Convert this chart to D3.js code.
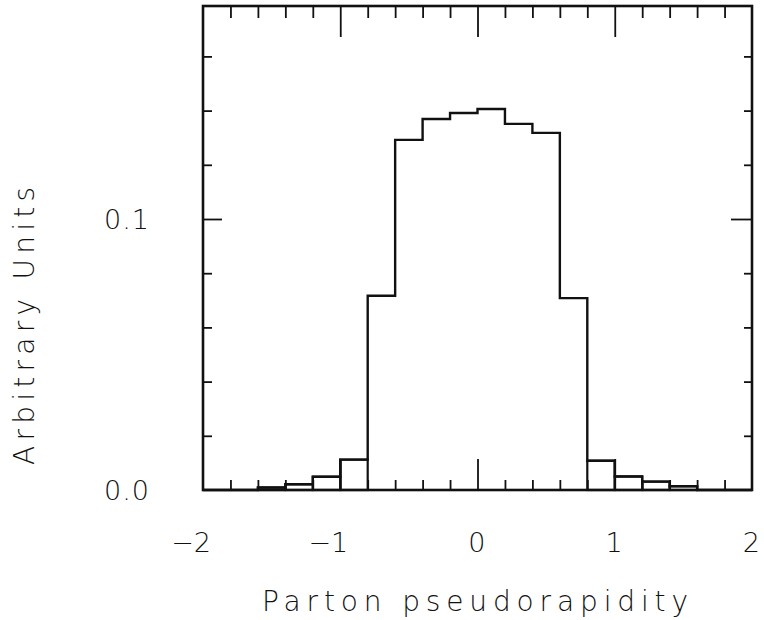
<!DOCTYPE html>
<html>
<head>
<meta charset="utf-8">
<script src="https://cdn.jsdelivr.net/npm/d3@7"></script>
<style>
  html, body { margin: 0; padding: 0; background: #fff; }
  svg { display: block; }
  text { font-family: "DejaVu Sans", "Liberation Sans", sans-serif; font-weight: 200; fill: #111; }
</style>
</head>
<body>
<svg id="chart" width="764" height="620"></svg>
<script>
// ---- data ----
const binEdges = [-2.0, -1.8, -1.6, -1.4, -1.2, -1.0, -0.8, -0.6, -0.4, -0.2, 0.0,
                  0.2, 0.4, 0.6, 0.8, 1.0, 1.2, 1.4, 1.6, 1.8, 2.0];
const binValues = [0, 0, 0.0009, 0.0021, 0.0049, 0.0112, 0.0717, 0.1292, 0.1369, 0.1391,
                   0.1406, 0.1351, 0.1318, 0.0708, 0.0108, 0.0050, 0.0031, 0.0014, 0, 0];
const xMajorTicks = [-2, -1, 0, 1, 2];
const xTickLabels = ["\u22122", "\u22121", "0", "1", "2"];
const xMinorTicks = [-1.8, -1.6, -1.4, -1.2, -0.8, -0.6, -0.4, -0.2, 0.2, 0.4, 0.6, 0.8, 1.2, 1.4, 1.6, 1.8];
const yMajorTicks = [0.0, 0.1];
const yTickLabels = ["0.0", "0.1"];
const yMinorTicks = [0.02, 0.04, 0.06, 0.08, 0.12, 0.14, 0.16];
const xTitle = "Parton  pseudorapidity";
const yTitle = "Arbitrary  Units";

// ---- layout ----
const svg = d3.select("#chart");
const L = 203, R = 752, T = 6, B = 490;
const x = d3.scaleLinear().domain([-2, 2]).range([L, R]);
const y = d3.scaleLinear().domain([0, 0.1786]).range([B, T]);
const ink = "#111";

// axes (ticks inward)
function addAxis(gen, transform) {
  const g = svg.append("g").attr("transform", transform).call(gen);
  g.select(".domain").remove();
  g.selectAll("line").attr("stroke", ink).attr("stroke-width", 1.8);
  return g;
}
const noFmt = () => "";
addAxis(d3.axisBottom(x).tickValues(xMinorTicks).tickSize(-10).tickFormat(noFmt), `translate(0,${B})`);
addAxis(d3.axisBottom(x).tickValues(xMajorTicks.slice(1, -1)).tickSize(-31).tickFormat(noFmt), `translate(0,${B})`);
addAxis(d3.axisTop(x).tickValues(xMinorTicks).tickSize(-12).tickFormat(noFmt), `translate(0,${T})`);
addAxis(d3.axisTop(x).tickValues(xMajorTicks.slice(1, -1)).tickSize(-31).tickFormat(noFmt), `translate(0,${T})`);
addAxis(d3.axisLeft(y).tickValues(yMinorTicks).tickSize(-9).tickFormat(noFmt), `translate(${L},0)`);
addAxis(d3.axisLeft(y).tickValues([0.1]).tickSize(-19).tickFormat(noFmt), `translate(${L},0)`);
addAxis(d3.axisRight(y).tickValues(yMinorTicks).tickSize(-8).tickFormat(noFmt), `translate(${R},0)`);
addAxis(d3.axisRight(y).tickValues([0.1]).tickSize(-21).tickFormat(noFmt), `translate(${R},0)`);

// histogram step outline
const steps = [];
binValues.forEach((v, i) => {
  steps.push([binEdges[i], v]);
  steps.push([binEdges[i + 1], v]);
});
const line = d3.line().x(d => x(d[0])).y(d => y(d[1]));
svg.append("path").attr("d", line(steps))
  .attr("fill", "none").attr("stroke", ink).attr("stroke-width", 2.4)
  .attr("stroke-linejoin", "miter");

// tail bins drawn as boxes down to baseline
binValues.forEach((v, i) => {
  if (v > 0 && v < 0.02) {
    svg.append("rect")
      .attr("x", x(binEdges[i])).attr("y", y(v))
      .attr("width", x(binEdges[i + 1]) - x(binEdges[i]))
      .attr("height", y(0) - y(v))
      .attr("fill", "none").attr("stroke", ink).attr("stroke-width", 2.2);
  }
});

// frame
svg.append("rect").attr("x", L).attr("y", T).attr("width", R - L).attr("height", B - T)
  .attr("fill", "none").attr("stroke", ink).attr("stroke-width", 2.6);

// tick labels
xMajorTicks.forEach((t, i) => {
  svg.append("text")
    .attr("x", x(t) + 8).attr("y", 552)
    .attr("text-anchor", "end")
    .attr("font-size", 27)
    .text(xTickLabels[i]);
});
yMajorTicks.forEach((t, i) => {
  svg.append("text")
    .attr("x", 150).attr("y", y(t) + 10)
    .attr("text-anchor", "end")
    .attr("font-size", 27)
    .attr("letter-spacing", 1)
    .text(yTickLabels[i]);
});

// axis titles
svg.append("text")
  .attr("x", 262).attr("y", 611)
  .attr("font-size", 28)
  .attr("textLength", 426).attr("lengthAdjust", "spacing")
  .text(xTitle);
svg.append("text")
  .attr("transform", `translate(34,465) rotate(-90)`)
  .attr("font-size", 28)
  .attr("textLength", 278).attr("lengthAdjust", "spacing")
  .text(yTitle);
</script>
</body>
</html>
